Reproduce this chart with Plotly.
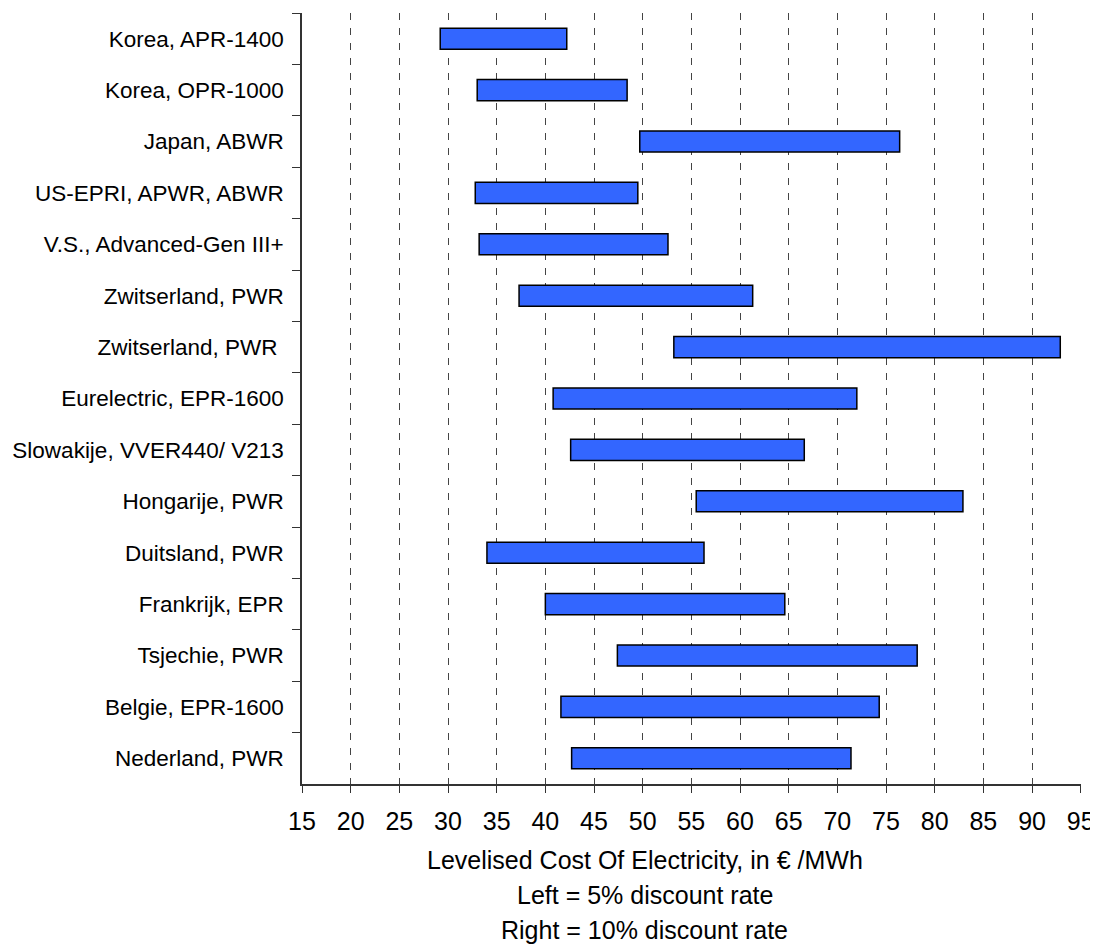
import plotly.graph_objects as go

categories = [
    "Korea, APR-1400",
    "Korea, OPR-1000",
    "Japan, ABWR",
    "US-EPRI, APWR, ABWR",
    "V.S., Advanced-Gen III+",
    "Zwitserland, PWR",
    "Zwitserland, PWR ",
    "Eurelectric, EPR-1600",
    "Slowakije, VVER440/ V213",
    "Hongarije, PWR",
    "Duitsland, PWR",
    "Frankrijk, EPR",
    "Tsjechie, PWR",
    "Belgie, EPR-1600",
    "Nederland, PWR",
]
left_5pct = [29.2, 33.0, 49.7, 32.8, 33.2, 37.3, 53.2, 40.8, 42.6, 55.5, 34.0, 40.0, 47.4, 41.6, 42.7]
right_10pct = [42.2, 48.4, 76.4, 49.5, 52.6, 61.3, 92.9, 72.0, 66.6, 82.9, 56.3, 64.6, 78.2, 74.3, 71.4]
x_ticks = list(range(15, 100, 5))
title_lines = [
    "Levelised Cost Of Electricity, in € /MWh",
    "Left = 5% discount rate",
    "Right = 10% discount rate",
]

widths = [r - l for l, r in zip(left_5pct, right_10pct)]

fig = go.Figure()
fig.add_trace(go.Bar(
    y=categories,
    x=widths,
    base=left_5pct,
    orientation="h",
    marker=dict(color="#3366FF", line=dict(color="black", width=1.5)),
    width=0.41,
    hoverinfo="skip",
))

font_family = "Liberation Sans, Arial, sans-serif"

# page body has an 8px default margin, so the figure is sized/offset accordingly
fig.update_layout(
    width=1090,
    height=941,
    margin=dict(l=294, r=17, t=5, b=165),
    plot_bgcolor="white",
    paper_bgcolor="white",
    showlegend=False,
    font=dict(family=font_family, color="black"),
    xaxis=dict(
        range=[15, 95.03],
        tickvals=x_ticks,
        ticktext=[str(v) for v in x_ticks],
        showgrid=True,
        gridcolor="#444444",
        gridwidth=1,
        griddash="7px,8px",
        showline=True,
        linecolor="#333333",
        linewidth=1.5,
        ticks="outside",
        ticklen=7,
        tickcolor="#333333",
        tickfont=dict(size=25, family=font_family),
        ticklabelstandoff=7,
        zeroline=False,
        fixedrange=True,
        automargin=False,
    ),
    yaxis=dict(
        autorange="reversed",
        showgrid=False,
        showline=True,
        linecolor="#333333",
        linewidth=1.5,
        ticks="outside",
        ticklen=8,
        tickcolor="#333333",
        tickson="boundaries",
        tickfont=dict(size=22.5, family=font_family),
        ticklabelstandoff=12,
        zeroline=False,
        fixedrange=True,
        automargin=False,
    ),
)

for i, line in enumerate(title_lines):
    fig.add_annotation(
        text=line,
        xref="paper", yref="paper",
        x=0.44, y=0,
        xanchor="center", yanchor="middle",
        yshift=-76 - 35 * i,
        showarrow=False,
        font=dict(size=25, family=font_family, color="black"),
    )

fig.write_html("out.html")
